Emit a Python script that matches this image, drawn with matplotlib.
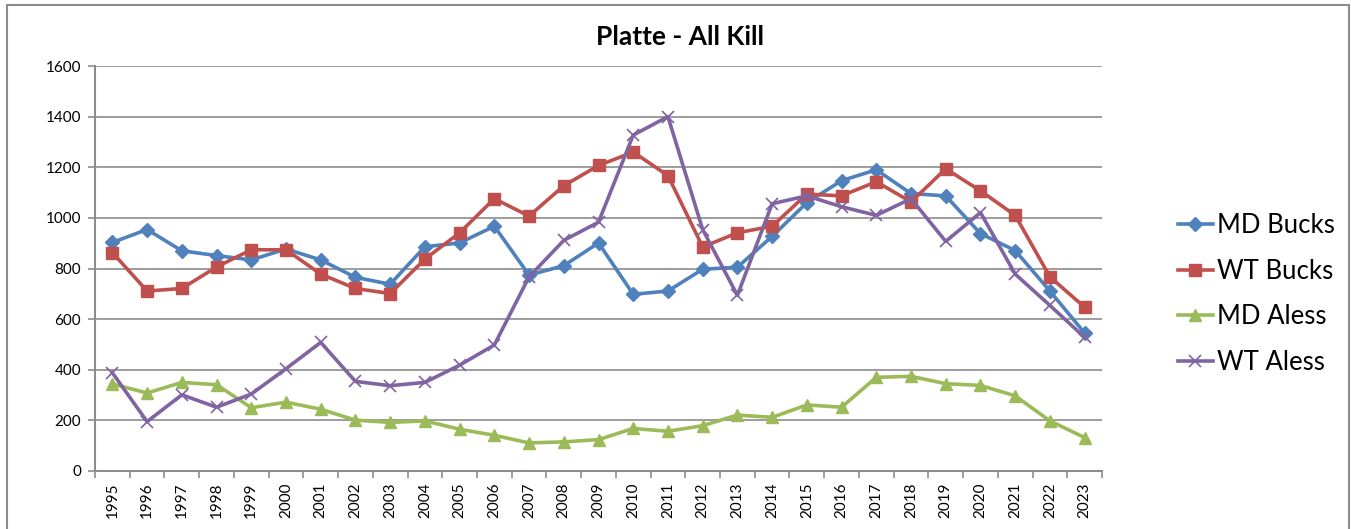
import matplotlib
matplotlib.use("Agg")
import matplotlib.pyplot as plt
from matplotlib.patches import Rectangle
from matplotlib.lines import Line2D

years = [str(y) for y in range(1995, 2024)]
md_bucks = [903, 954, 870, 851, 834, 877, 834, 765, 738, 886,
            901, 967, 774, 811, 901, 698, 711, 797, 805, 927,
            1060, 1147, 1190, 1096, 1087, 938, 871, 711, 545]
wt_bucks = [863, 711, 721, 806, 874, 874, 778, 721, 701, 837,
            941, 1076, 1007, 1127, 1207, 1260, 1167, 885, 941, 967,
            1094, 1087, 1143, 1063, 1194, 1107, 1010, 767, 647]
md_aless = [344, 308, 350, 341, 250, 272, 244, 201, 192, 198,
            165, 141, 111, 115, 124, 168, 157, 179, 221, 212,
            261, 252, 370, 374, 345, 338, 297, 198, 132]
wt_aless = [388, 195, 301, 252, 304, 404, 508, 354, 337, 350,
            418, 498, 767, 911, 983, 1327, 1400, 954, 694, 1056,
            1087, 1044, 1010, 1076, 907, 1021, 778, 654, 528]
y_ticks = [0, 200, 400, 600, 800, 1000, 1200, 1400, 1600]

plt.rcParams['font.family'] = ['Lato', 'DejaVu Sans']

W, H = 1351, 529
fig = plt.figure(figsize=(W / 100, H / 100), dpi=100)
fig.patch.set_facecolor('white')

# outer chart border
fig.patches.append(Rectangle((7 / W, -0.05), (1349 - 7) / W, 1.05 - 5 / H,
                             transform=fig.transFigure, fill=False,
                             edgecolor='#8c8c8c', linewidth=1.5))

ax = fig.add_axes([95 / W, 1 - 471 / H, (1102 - 95) / W, (471 - 66) / H])
x = list(range(len(years)))

grid_c = '#8c8c8c'
series = [
    ("MD Bucks", md_bucks, '#4F81BD', 'D', 7),
    ("WT Bucks", wt_bucks, '#C0504D', 's', 8.5),
    ("MD Aless", md_aless, '#9BBB59', '^', 8.5),
    ("WT Aless", wt_aless, '#8064A2', 'x', 8),
]
handles = []
for name, vals, c, m, ms in series:
    kw = dict(color=c, linewidth=2.6, marker=m, markersize=ms,
              markerfacecolor=c, markeredgecolor=c)
    if m == 'x':
        kw['markeredgewidth'] = 1.2
    ax.plot(x, vals, zorder=3, **kw)
    handles.append(Line2D([0], [0], label=name, **kw))

ax.set_xlim(-0.5, len(years) - 0.5)
ax.set_ylim(0, 1600)
ax.set_yticks(y_ticks)
ax.set_yticklabels([str(v) for v in y_ticks], fontsize=11)
ax.set_xticks(x)
ax.set_xticklabels(years, rotation=90, fontsize=11)
ax.tick_params(axis='x', which='major', length=0, pad=8)
ax.set_xticks([i - 0.5 for i in range(len(years) + 1)], minor=True)
ax.tick_params(axis='x', which='minor', length=5, color=grid_c, width=1.2)
ax.tick_params(axis='y', length=5, color=grid_c, width=1.2, pad=5)

ax.grid(axis='y', color=grid_c, linewidth=1.2, zorder=0)
ax.set_axisbelow(True)
for s in ['top', 'right']:
    ax.spines[s].set_visible(False)
for s in ['left', 'bottom']:
    ax.spines[s].set_color(grid_c)
    ax.spines[s].set_linewidth(1.5)

fig.text(680 / W, 1 - 37 / H, "Platte - All Kill", ha='center', va='center',
         fontsize=19, fontweight='bold')

fig.legend(handles=handles, loc='center left', bbox_to_anchor=(1178 / W, 1 - 294 / H),
           frameon=False, fontsize=18.5, handlelength=1.35, handletextpad=0.15,
           labelspacing=0.8, borderaxespad=0, borderpad=0)

fig.savefig("out.png", dpi=100, facecolor='white')
